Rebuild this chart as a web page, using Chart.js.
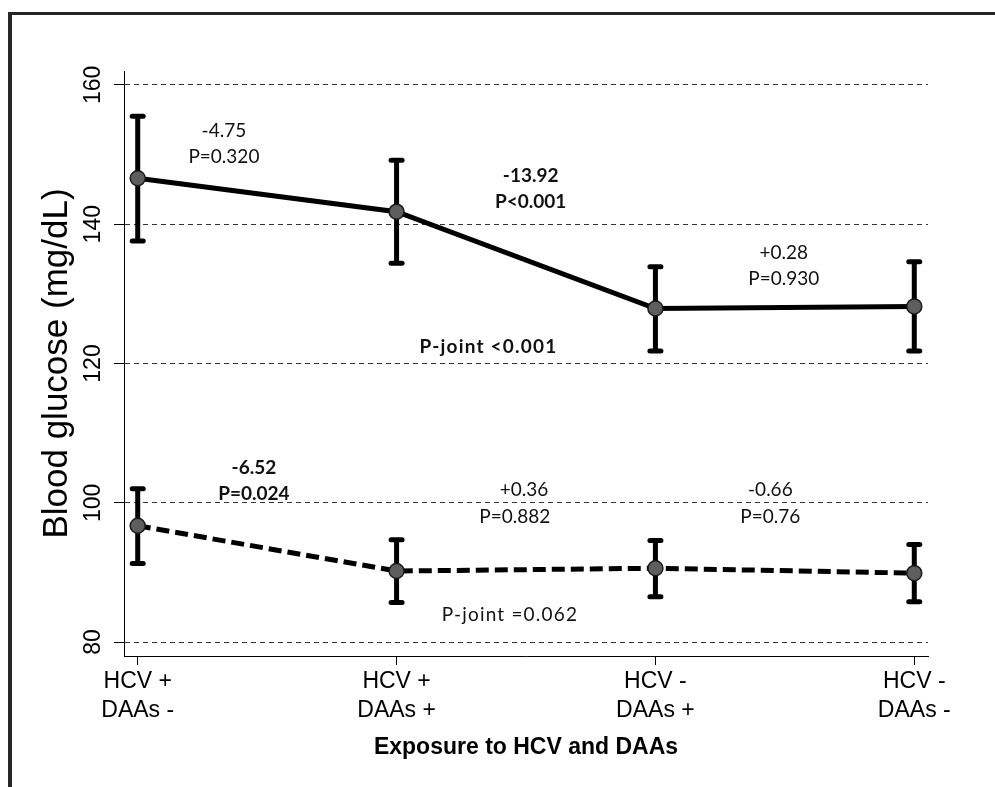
<!DOCTYPE html>
<html>
<head>
<meta charset="utf-8">
<title>Blood glucose by HCV and DAAs exposure</title>
<script src="https://cdn.jsdelivr.net/npm/chart.js@4.4.1/dist/chart.umd.min.js"></script>
<style>
  html, body { margin: 0; padding: 0; background: #fff; }
  #wrap { position: relative; width: 995px; height: 787px; overflow: hidden; }
  #frame { position: absolute; left: 8px; top: 12px; width: 1100px; height: 900px;
           border-left: 4px solid #262626; border-top: 3px solid #262626; }
  #chart { position: absolute; left: 0; top: 0; }
</style>
</head>
<body>
<div id="wrap">
  <div id="frame"></div>
  <canvas id="chart" width="995" height="787"></canvas>
</div>
<script>
// groups on the x axis
const groups = [['HCV +', 'DAAs -'], ['HCV +', 'DAAs +'], ['HCV -', 'DAAs +'], ['HCV -', 'DAAs -']];
const yTicks = [80, 100, 120, 140, 160];

// upper series (solid line): mean and 95% CI
const solidMean = [146.6, 141.8, 127.9, 128.2];
const solidLow = [137.6, 134.4, 121.8, 121.8];
const solidHigh = [155.5, 149.2, 133.9, 134.6];

// lower series (dashed line)
const dashMean = [96.7, 90.2, 90.6, 89.9];
const dashLow = [91.3, 85.7, 86.5, 85.8];
const dashHigh = [102.0, 94.7, 94.6, 94.0];

// text annotations, placed in data units (x = group index, y = mg/dL)
const notes = [
  { text: '-4.75', x: 0.333, y: 153.4 },
  { text: 'P=0.320', x: 0.333, y: 149.7 },
  { text: '-13.92', x: 1.518, y: 146.9, bold: true },
  { text: 'P<0.001', x: 1.518, y: 143.2, bold: true },
  { text: '+0.28', x: 2.496, y: 135.9 },
  { text: 'P=0.930', x: 2.496, y: 132.2 },
  { text: 'P-joint <0.001', x: 1.355, y: 122.4, bold: true, wide: true },
  { text: '-6.52', x: 0.449, y: 105.05, bold: true },
  { text: 'P=0.024', x: 0.449, y: 101.3, bold: true },
  { text: '+0.36', x: 1.492, y: 101.85 },
  { text: 'P=0.882', x: 1.457, y: 98.0 },
  { text: '-0.66', x: 2.444, y: 101.85 },
  { text: 'P=0.76', x: 2.444, y: 98.0 },
  { text: 'P-joint =0.062', x: 1.438, y: 83.9, wide: true }
];

const sans = '"Liberation Sans", Arial, Helvetica, sans-serif';
Chart.defaults.font.family = sans;
Chart.defaults.color = '#000';

function points(vals) {
  return vals.map((v, i) => ({ x: i, y: v }));
}

// each CI is a two-point segment, separated by a gap
function errorBars(lo, hi) {
  const pts = [];
  lo.forEach((v, i) => {
    pts.push({ x: i, y: v }, { x: i, y: hi[i] }, { x: i, y: null });
  });
  return pts;
}

const seriesStyle = {
  borderColor: '#000',
  borderWidth: 5,
  pointRadius: 7.5,
  pointBackgroundColor: '#5e5e5e',
  pointBorderColor: '#1a1a1a',
  pointBorderWidth: 1.5,
  tension: 0,
  fill: false
};

const errStyle = {
  borderColor: '#000',
  borderWidth: 5,
  pointStyle: 'line',
  pointRadius: 5.5,
  pointBorderWidth: 5,
  pointBorderColor: '#000',
  spanGaps: false,
  fill: false
};

const notePlugin = {
  id: 'notes',
  beforeDatasetsDraw(chart) {
    chart.ctx.lineCap = 'round';
  },
  afterDatasetsDraw(chart) {
    const { ctx, scales: { x, y } } = chart;
    ctx.lineCap = 'butt';
    ctx.save();
    ctx.fillStyle = '#111';
    ctx.textAlign = 'center';
    ctx.textBaseline = 'middle';
    notes.forEach(n => {
      ctx.font = (n.bold ? 'bold ' : '') + '19px Lato, "Open Sans", sans-serif';
      ctx.letterSpacing = n.wide ? '1.2px' : '0px';
      ctx.fillText(n.text, x.getPixelForValue(n.x), y.getPixelForValue(n.y));
    });
    ctx.restore();
  }
};

new Chart(document.getElementById('chart'), {
  type: 'line',
  data: {
    datasets: [
      { ...seriesStyle, data: points(solidMean) },
      { ...seriesStyle, borderDash: [13, 6], data: points(dashMean) },
      { ...errStyle, data: errorBars(solidLow, solidHigh) },
      { ...errStyle, data: errorBars(dashLow, dashHigh) }
    ]
  },
  options: {
    responsive: false,
    animation: false,
    devicePixelRatio: 1,
    layout: { padding: { top: 71, right: 67, left: 0, bottom: 0 } },
    plugins: { legend: { display: false }, tooltip: { enabled: false } },
    scales: {
      x: {
        type: 'linear',
        min: -0.053,
        max: 3.053,
        afterFit: s => { s.height = 131; },
        border: { display: true, color: '#000', width: 1 },
        grid: { drawOnChartArea: false, drawTicks: true, tickLength: 9, tickColor: '#000', lineWidth: 1 },
        ticks: {
          stepSize: 1,
          includeBounds: false,
          autoSkip: false,
          minRotation: 0,
          maxRotation: 0,
          padding: 2,
          color: '#000',
          font: { size: 23, lineHeight: 1.26 },
          callback: v => groups[v]
        },
        title: {
          display: true,
          text: 'Exposure to HCV and DAAs',
          color: '#000',
          font: { size: 23, weight: 'bold' },
          padding: { top: 0, bottom: 26 }
        }
      },
      y: {
        min: 78,
        max: 162,
        afterFit: s => { s.width = 124; },
        afterBuildTicks: s => { s.ticks = yTicks.map(v => ({ value: v })); },
        border: { display: true, color: '#000', width: 1, dash: [5, 4] },
        grid: { color: '#333', lineWidth: 1, drawTicks: true, tickLength: 10, tickColor: '#000', tickBorderDash: [] },
        ticks: {
          minRotation: 90,
          maxRotation: 90,
          crossAlign: 'center',
          padding: 1,
          color: '#000',
          font: { size: 23 }
        },
        title: {
          display: true,
          text: 'Blood glucose (mg/dL)',
          color: '#000',
          font: { size: 35 },
          padding: { top: 36, bottom: 0 }
        }
      }
    }
  },
  plugins: [notePlugin]
});
</script>
</body>
</html>
